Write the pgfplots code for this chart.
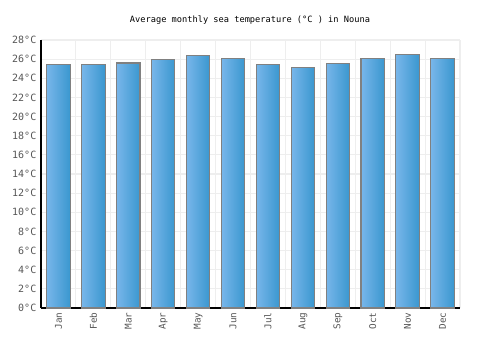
\documentclass[border=0pt]{standalone}
\usepackage{pgfplots}
\pgfplotsset{compat=1.18}
\usepackage{fontspec}
\setmainfont{DejaVu Sans Mono}
\definecolor{barL}{HTML}{78B6EA}
\definecolor{barR}{HTML}{3A97CF}
\definecolor{gridc}{HTML}{EEEEEE}
\definecolor{tickc}{HTML}{555555}
\begin{document}
\begin{tikzpicture}
\path[use as bounding box] (0pt,0pt) rectangle (375pt,262.5pt);
\node[font=\fontsize{6.5pt}{7pt}\selectfont] at (187.5pt,247.5pt) {Average monthly sea temperature (°C ) in Nouna};
\begin{axis}[
  at={(30.75pt,31.5pt)}, anchor=south west,
  scale only axis, width=314.25pt, height=201pt,
  xmin=-0.5, xmax=11.5, ymin=0, ymax=28,
  ytick={0,2,...,28},
  yticklabel={\pgfmathprintnumber{\tick}°C},
  xtick={0,...,11},
  xticklabels={Jan,Feb,Mar,Apr,May,Jun,Jul,Aug,Sep,Oct,Nov,Dec},
  x tick label style={rotate=90, anchor=east, font=\fontsize{7pt}{8pt}\selectfont, text=tickc},
  y tick label style={font=\fontsize{7.5pt}{8pt}\selectfont, text=tickc},
  minor xtick={-0.5,0.5,...,11.5},
  xminorgrids=true, ymajorgrids=true, xmajorgrids=false,
  grid style={gridc, line width=0.8pt},
  minor grid style={gridc, line width=0.8pt},
  axis x line*=bottom, axis y line*=left,
  axis line style={black, line width=0.8pt, -},
  major tick length=0pt, minor tick length=0pt,
  /pgf/number format/assume math mode=true,
  ybar, bar width=0.67, bar shift=0pt,
  mybar/.style={ybar, bar width=0.67, bar shift=0pt, draw=gray, line width=0.8pt, left color=barL, right color=barR},
]
\addplot[mybar] coordinates {(0,25.4)};
\addplot[mybar] coordinates {(1,25.4)};
\addplot[mybar] coordinates {(2,25.6)};
\addplot[mybar] coordinates {(3,26.0)};
\addplot[mybar] coordinates {(4,26.4)};
\addplot[mybar] coordinates {(5,26.1)};
\addplot[mybar] coordinates {(6,25.4)};
\addplot[mybar] coordinates {(7,25.1)};
\addplot[mybar] coordinates {(8,25.5)};
\addplot[mybar] coordinates {(9,26.1)};
\addplot[mybar] coordinates {(10,26.5)};
\addplot[mybar] coordinates {(11,26.1)};
\end{axis}
\end{tikzpicture}
\end{document}
